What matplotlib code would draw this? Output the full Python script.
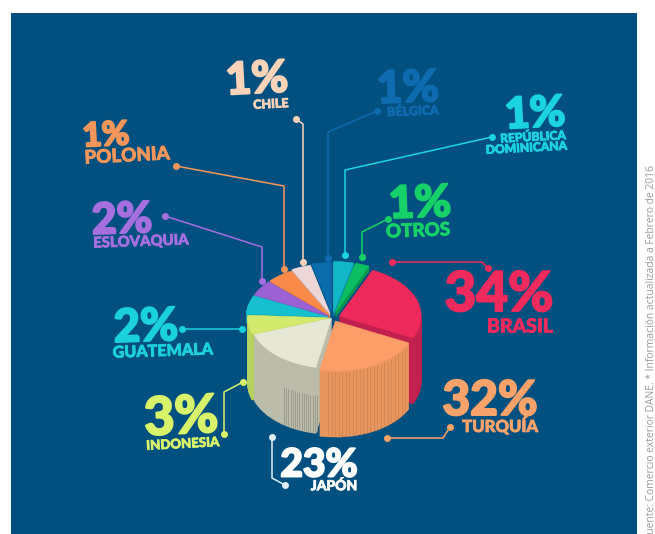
import numpy as np
from matplotlib import pyplot as plt
from matplotlib import patheffects as pe
from matplotlib.transforms import Affine2D

paises = ['BRASIL', 'TURQUÍA', 'JAPÓN', 'INDONESIA', 'GUATEMALA', 'ESLOVAQUIA', 'POLONIA', 'CHILE', 'BÉLGICA',
          'REPÚBLICA\nDOMINICANA', 'OTROS']
porcentajes = [34, 32, 23, 3, 2, 2, 1, 1, 1, 1, 1]
# the slices in the picture are not drawn to scale, so these are the spans as seen (degrees)
spans = [92, 75, 60, 22, 22, 18, 19, 14, 14, 14, 10]
explode = [0.09, 0.08, 0.02, 0.04, 0.06, 0.06, 0.06, 0.08, 0.1, 0.12, 0.12]
alturas = [66, 66, 66, 66, 8, 6, 5, 4, 4, 4, 5]

top_colors = ['#ee2a5c', '#fd9d68', '#e6e8d5', '#d3ea6c', '#17c0cf', '#9b62d6', '#f98a4a', '#ecd6d8', '#0a6cab',
              '#12b8c8', '#0bbf62']
wall_colors = ['#c2214f', '#e8955e', '#bcbcab', '#b5d15f', '#0f9fb0', '#7a4bb0', '#c96d38', '#c2aeb2', '#07558a',
               '#0e95a3', '#089a4e']
text_colors = ['#f02a5c', '#f9a36a', '#ffffff', '#d8f36a', '#1bd1dc', '#a66fe0', '#f5965a', '#fbd3b8', '#0e6bb0',
               '#1bd4e0', '#16d168']

# pct x, y, pct size, name x, y, name size, rotation
label_pos = [
    (499, 295, 39.5, 520, 327, 14, 0),
    (490, 401, 34.5, 500, 426, 12, 0),
    (319, 465, 28, 334, 486, 10, 0),
    (181, 418, 38, 183, 444, 9.5, 3),
    (146, 328, 33, 163, 351, 11.6, 2),
    (122, 220, 31, 141, 242, 10.7, 2),
    (106, 136, 24, 127, 156, 13.5, 3),
    (257, 80, 32, 271, 104, 9, 3),
    (408, 89, 32, 413, 111, 9, 2),
    (535, 114, 31, 526, 143, 8.7, 3),
    (420, 204, 32, 418, 231, 13.5, 2),
]

leaders = [
    [(392, 262), (482, 262), (488, 268)],
    [(387, 438), (443, 438), (450, 427)],
    [(272, 437), (272, 478), (285, 485)],
    [(243, 382), (224, 392), (224, 434)],
    [(242, 329), (182, 329)],
    [(165, 216), (262, 247), (262, 281)],
    [(176, 166), (284, 186), (284, 269)],
    [(296, 119), (303, 124), (303, 262)],
    [(377, 111), (328, 132), (328, 258)],
    [(492, 137), (345, 170), (345, 255)],
    [(388, 219), (362, 232), (362, 257)],
]

CX, CY = 332.5, 317.5
RX, RY = 81.7, 50
START = 66

fig = plt.figure(figsize=(6.55, 5.34), dpi=100, facecolor='white')
ax = fig.add_axes([0, 0, 1, 1])


def draw_pie(depth, colors, min_h=0, z=3):
    wedges, texts = ax.pie(spans, explode=explode, colors=colors, startangle=START, counterclock=False,
                           wedgeprops={'linewidth': 0.4})
    for t in texts:
        t.remove()
    tr = Affine2D().scale(RX, -RY).translate(CX, CY + depth) + ax.transData
    for w, h in zip(wedges, alturas):
        w.set_transform(tr)
        w.set_edgecolor(w.get_facecolor())
        w.set_zorder(z)
        if h < min_h:
            w.set_visible(False)


def wall_edge(i, xs):
    # rim of slice i at the given x, top of the wall
    mid = np.radians(START - sum(spans[:i]) - spans[i] / 2)
    ax0 = CX + explode[i] * RX * np.cos(mid)
    ay0 = CY - explode[i] * RY * np.sin(mid)
    return ay0 + RY * np.sqrt(np.clip(1 - ((xs - ax0) / RX) ** 2, 0, 1))


# the walls are just the pie stacked downwards
for d in range(66, 0, -1):
    draw_pie(d, wall_colors, d)

ax.add_patch(plt.Rectangle((11, 13), 626, 530, facecolor='#01507f', edgecolor='none', zorder=0))

# vertical scratches on the big walls
xs = np.arange(328, 408, 3.5)
ys = wall_edge(1, xs)
ax.vlines(xs, ys + 1, ys + 65, color='#c97f4e', linewidth=0.6, alpha=0.7, zorder=3.5)
xs = np.arange(284, 318, 2.2)
ys = wall_edge(2, xs)
ax.vlines(xs, ys + 28, ys + 65, color='#8f8f82', linewidth=0.6, alpha=0.8, zorder=3.5)

draw_pie(0, top_colors, z=4)

ax.set_aspect('auto')
ax.set_xlim(0, 655)
ax.set_ylim(534, 0)
ax.set_axis_off()

for pts, c in zip(leaders, text_colors):
    x, y = zip(*pts)
    lc = c if c != '#ffffff' else '#dfeff5'
    ax.plot(x, y, color=lc, linewidth=1.1, zorder=5)
    ax.plot([x[0], x[-1]], [y[0], y[-1]], 'o', color=lc, markersize=4, zorder=6)

for nombre, pct, c, p in zip(paises, porcentajes, text_colors, label_pos):
    t1 = ax.text(p[0], p[1], '%d%%' % pct, color=c, fontsize=p[2], family='Lato', fontweight='black',
                 ha='center', va='center', rotation=p[6], zorder=7)
    t2 = ax.text(p[3], p[4], nombre, color=c, fontsize=p[5], family='Lato', fontweight='black',
                 ha='center', va='center', rotation=p[6], linespacing=0.95, multialignment='right', zorder=7)
    # Lato is thinner than the heavy face of the poster
    t1.set_path_effects([pe.withStroke(linewidth=1.4, foreground=c)])
    t2.set_path_effects([pe.withStroke(linewidth=0.5, foreground=c)])

ax.text(652, 165, 'Fuente: Comercio exterior DANE. * Información actualizada a Febrero de 2016', color='#9a9a9a',
        fontsize=7.4, family='Open Sans', rotation=90, ha='center', va='top', zorder=7)

fig.savefig('out.png', dpi=100, facecolor='white')
